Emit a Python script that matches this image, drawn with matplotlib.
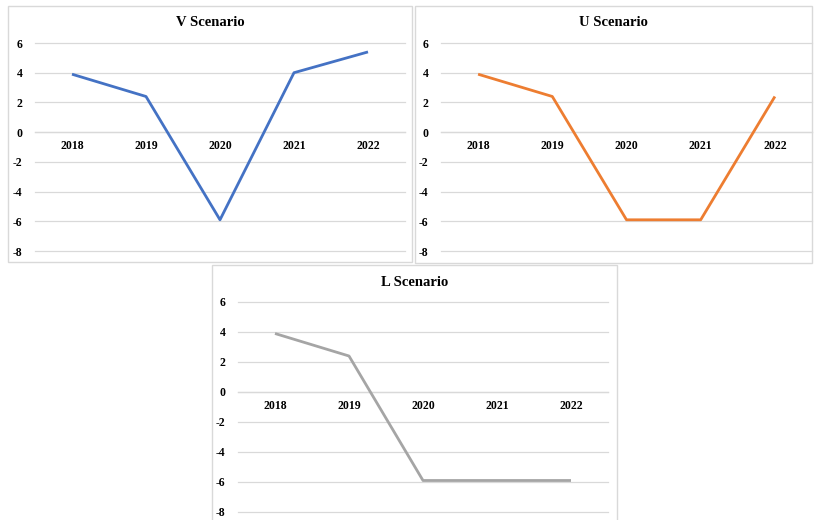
import matplotlib
matplotlib.use("Agg")
import matplotlib.pyplot as plt
from matplotlib.patches import Rectangle

# GDP growth scenarios (%)
years = ["2018", "2019", "2020", "2021", "2022"]
v_growth = [3.9, 2.4, -5.9, 4.0, 5.4]
u_growth = [3.9, 2.4, -5.9, -5.9, 2.4]
l_growth = [3.9, 2.4, -5.9, -5.9, -5.9]
y_ticks = [6, 4, 2, 0, -2, -4, -6, -8]
titles = ["V Scenario", "U Scenario", "L Scenario"]

W, H = 815, 520
FONT = "Liberation Serif"
GRID = "#D9D9D9"

fig = plt.figure(figsize=(W / 100, H / 100), dpi=100)
fig.patch.set_facecolor("white")


def fig_rect(x0, y0, x1, y1):
    """Pixel box (top-left origin) -> figure fraction [l, b, w, h]."""
    return [x0 / W, 1 - y1 / H, (x1 - x0) / W, (y1 - y0) / H]


def panel(box, plot_box, title, values, color):
    # chart frame
    l, b, w, h = fig_rect(*box)
    fig.add_artist(Rectangle((l, b), w, h, transform=fig.transFigure,
                             fill=False, edgecolor=GRID, linewidth=1.0))
    fig.text(l + w / 2, 1 - (box[1] + 17) / H, title, ha="center", va="center",
             fontsize=10.5, fontweight="bold", family=FONT)

    ax = fig.add_axes(fig_rect(*plot_box))
    x = list(range(len(years)))
    ax.plot(x, values, color=color, linewidth=2.0, solid_capstyle="butt",
            zorder=3, clip_on=False)
    ax.set_xlim(-0.5, len(years) - 0.5)
    ax.set_ylim(min(y_ticks), max(y_ticks))
    ax.set_yticks(y_ticks)
    ax.set_yticklabels([str(t) for t in y_ticks])
    ax.set_xticks(x)
    ax.set_xticklabels(years)
    ax.yaxis.grid(True, color=GRID, linewidth=0.9)
    for gl in ax.get_ygridlines():
        gl.set_clip_on(False)
    ax.set_axisbelow(True)
    for side in ("top", "right", "left"):
        ax.spines[side].set_visible(False)
    ax.spines["bottom"].set_position(("data", 0))
    ax.spines["bottom"].set_color(GRID)
    ax.spines["bottom"].set_linewidth(0.9)
    ax.tick_params(axis="both", length=0)
    ax.tick_params(axis="x", pad=6)
    ax.tick_params(axis="y", pad=9)
    for lab in ax.get_xticklabels() + ax.get_yticklabels():
        lab.set_family(FONT)
        lab.set_fontweight("bold")
        lab.set_fontsize(8.5)
    ax.patch.set_alpha(0)
    return ax


panel((8, 6, 412, 262), (35, 43, 405, 251), titles[0], v_growth, "#4472C4")
panel((415, 6, 812, 263), (441, 43, 812, 251), titles[1], u_growth, "#ED7D31")
panel((212, 265, 617, 540), (238, 302, 608, 512), titles[2], l_growth, "#A5A5A5")

fig.savefig("out.png", dpi=100)
